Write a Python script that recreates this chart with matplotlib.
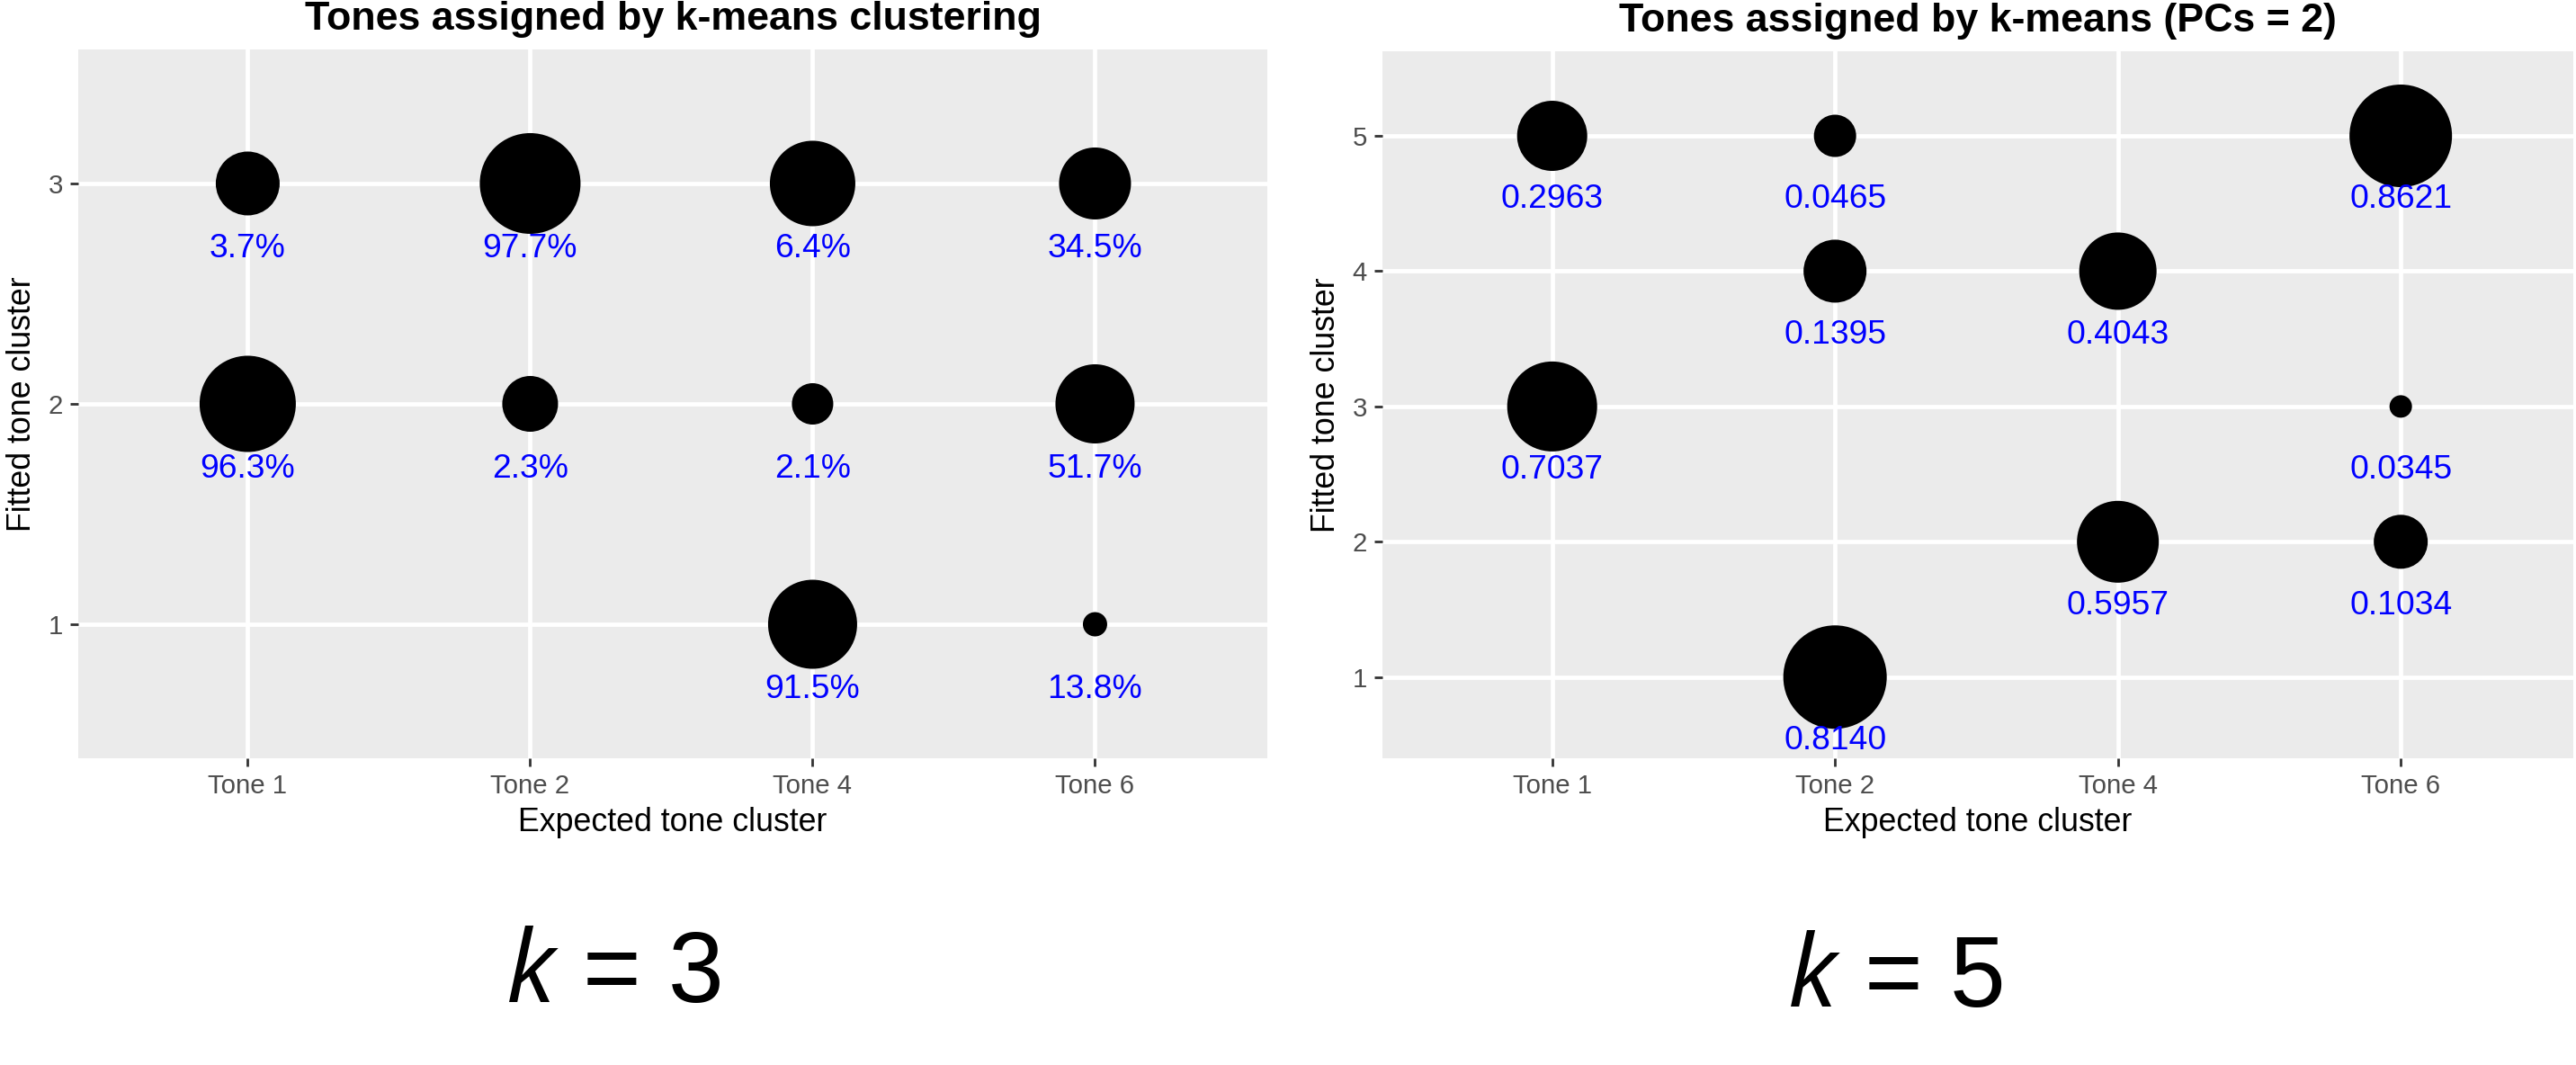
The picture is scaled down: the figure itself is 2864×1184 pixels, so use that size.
import matplotlib
matplotlib.use("Agg")
import matplotlib.pyplot as plt
import numpy as np

plt.rcParams['font.family'] = ['Liberation Sans', 'DejaVu Sans']
plt.rcParams['mathtext.fontset'] = 'custom'
plt.rcParams['mathtext.it'] = 'Open Sans:italic'
plt.rcParams['mathtext.rm'] = 'Open Sans'

DPI = 200

# ---------------- data ----------------
categories = ["Tone 1", "Tone 2", "Tone 4", "Tone 6"]

# Left panel (k = 3)
left_x = ["Tone 1", "Tone 1", "Tone 2", "Tone 2", "Tone 4", "Tone 4", "Tone 4", "Tone 6", "Tone 6", "Tone 6"]
left_y = [3, 2, 3, 2, 3, 2, 1, 3, 2, 1]
left_labels = ["3.7%", "96.3%", "97.7%", "2.3%", "6.4%", "2.1%", "91.5%", "34.5%", "51.7%", "13.8%"]
left_size = [71, 107, 112, 62, 95, 46, 99, 80, 88, 27]   # bubble diameter (px) as read
left_yticks = [1, 2, 3]

# Right panel (k = 5)
right_x = ["Tone 1", "Tone 1", "Tone 2", "Tone 2", "Tone 2", "Tone 4", "Tone 4", "Tone 6", "Tone 6", "Tone 6"]
right_y = [5, 3, 5, 4, 1, 4, 2, 5, 3, 2]
right_labels = ["0.2963", "0.7037", "0.0465", "0.1395", "0.8140", "0.4043", "0.5957", "0.8621", "0.0345", "0.1034"]
right_size = [78, 100, 47, 70, 115, 86, 91, 114, 25, 60]
right_yticks = [1, 2, 3, 4, 5]

titles = ["Tones assigned by k-means clustering", "Tones assigned by k-means (PCs = 2)"]
xlabel = "Expected tone cluster"
ylabel = "Fitted tone cluster"
k_labels = [r"$k$ = 3", r"$k$ = 5"]

# ---------------- figure ----------------
W, H = 2864, 1184
fig = plt.figure(figsize=(W / DPI, H / DPI), dpi=DPI)

def px_rect(x0, y0, x1, y1):
    return [x0 / W, 1 - y1 / H, (x1 - x0) / W, (y1 - y0) / H]

ax_left = fig.add_axes(px_rect(87, 55, 1409, 843))
ax_right = fig.add_axes(px_rect(1537, 57, 2861, 843))

def style(ax, yticks, ylim):
    ax.set_facecolor("#EBEBEB")
    for s in ax.spines.values():
        s.set_visible(False)
    ax.set_xlim(0.4, 4.61)
    ax.set_ylim(*ylim)
    ax.set_xticks(range(1, len(categories) + 1))
    ax.set_xticklabels(categories)
    ax.set_yticks(yticks)
    ax.set_yticklabels([str(t) for t in yticks])
    ax.grid(True, color="white", linewidth=1.7)
    ax.set_axisbelow(True)
    ax.tick_params(axis="both", colors="#333333", length=3.2, width=1.0,
                   labelsize=10.6, labelcolor="#4D4D4D", pad=3.0)
    ax.set_xlabel(xlabel, fontsize=12.9, color="black", labelpad=3)
    ax.set_ylabel(ylabel, fontsize=12.9, color="black", labelpad=4)

def draw(ax, xs, ys, labels, sizes, offset):
    pos = [categories.index(c) + 1 for c in xs]
    s = [(d * 72 / DPI) ** 2 for d in sizes]
    ax.scatter(pos, ys, s=s, color="black", zorder=3, linewidths=0)
    for p, y, lab in zip(pos, ys, labels):
        ax.text(p, y - offset, lab, color="#0000FF", fontsize=13.4,
                ha="center", va="center", zorder=4)

style(ax_left, left_yticks, (0.392, 3.608))
draw(ax_left, left_x, left_y, left_labels, left_size, 0.295)

style(ax_right, right_yticks, (0.40, 5.625))
draw(ax_right, right_x, right_y, right_labels, right_size, 0.47)

# titles
fig.text((87 + 1409) / 2 / W, 1 - 21 / H, titles[0], fontsize=16.1, fontweight="bold",
         ha="center", va="center")
fig.text((1537 + 2861) / 2 / W, 1 - 23 / H, titles[1], fontsize=16.1, fontweight="bold",
         ha="center", va="center")

# k labels
fig.text(682 / W, 1 - 1085 / H, k_labels[0], fontsize=40, ha="center", va="center")
fig.text(2107 / W, 1 - 1090 / H, k_labels[1], fontsize=40, ha="center", va="center")

fig.savefig("out.png", dpi=DPI)
